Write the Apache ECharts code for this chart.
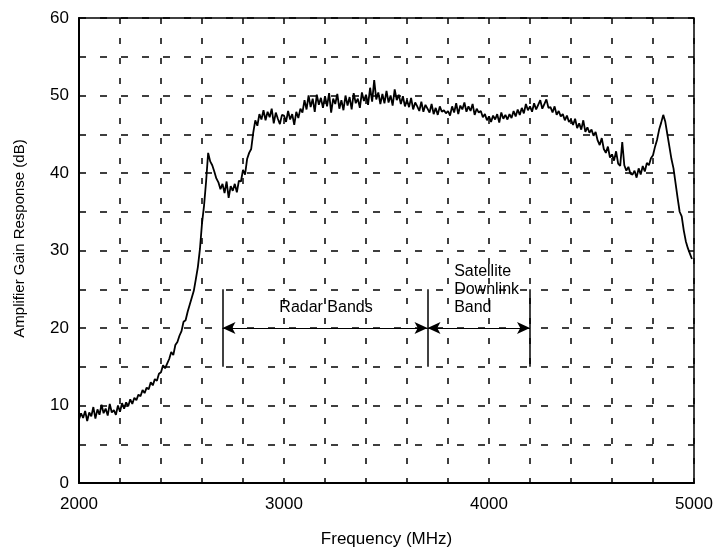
<!DOCTYPE html>
<html>
<head>
<meta charset="utf-8">
<script src="https://cdn.jsdelivr.net/npm/echarts@6/dist/echarts.min.js"></script>
<style>html,body{margin:0;padding:0;background:#fff}#c{width:716px;height:553px}</style>
</head>
<body>
<div id="c"></div>
<script>
// Frequency start/step (MHz) for the gain samples
const freqStart = 2000;
const freqStep = 10;
// Amplifier gain response (dB), one value every 10 MHz from 2000 to 4990 MHz
const gain = [
  8.2, 9.0, 8.4, 9.3, 8.0, 9.1, 8.6, 9.8, 8.3, 9.5,
  8.8, 10.1, 9.0, 9.6, 8.7, 10.2, 9.1, 9.4, 8.8, 10.0,
  9.2, 10.3, 9.6, 10.4, 9.9, 10.8, 10.2, 11.0, 10.7, 11.4,
  11.2, 12.0, 11.6, 12.3, 12.1, 13.0, 12.6, 13.4, 13.2, 14.1,
  14.3, 15.2, 14.8, 15.4, 16.0, 16.9, 16.5, 17.8, 18.2, 19.0,
  19.6, 20.8, 21.0, 22.1, 23.0, 23.9, 24.8, 26.3, 27.9, 30.2,
  33.5, 35.8, 38.9, 42.6, 41.5, 41.0, 40.2, 39.3, 38.8, 37.9,
  38.6, 37.4, 38.9, 36.8, 38.3, 37.7, 38.6, 37.5, 39.0, 38.9,
  40.4, 39.8, 41.8, 42.6, 43.1, 45.2, 46.8, 46.1, 47.6, 46.9,
  48.1, 46.8, 47.9, 47.2, 48.3, 46.4, 47.8, 47.0, 46.3, 47.5,
  47.4, 46.6, 48.0, 46.9, 47.6, 46.2, 47.9, 47.1, 48.3, 47.8,
  49.4, 48.2, 50.0, 48.5, 49.6, 47.9, 50.1, 48.8, 49.7, 48.4,
  49.9, 48.6, 50.3, 47.8, 49.6, 48.9, 50.2, 48.3, 49.4, 48.1,
  50.0, 48.7, 49.8, 48.2, 50.3, 49.0, 49.6, 48.4, 50.4, 49.3,
  50.1, 48.8, 51.0, 49.2, 52.0, 49.5, 50.4, 48.9, 50.2, 49.0,
  50.6, 49.1, 50.0, 48.7, 50.8, 49.4, 50.1, 48.9, 49.9, 48.6,
  49.4, 48.5, 49.7, 48.2, 49.1, 48.6, 48.0, 49.2, 47.9, 48.8,
  48.3, 47.8, 48.9, 47.6, 48.4, 47.5, 48.6, 47.9, 48.1, 47.7,
  48.0, 47.4, 48.6, 47.8, 49.0, 47.6, 48.7, 48.2, 49.1, 47.9,
  48.6, 48.0, 48.9, 47.5, 48.3, 47.8, 48.0, 47.2, 47.6, 46.8,
  47.3, 46.6, 47.4, 46.9, 47.6, 46.5, 47.8, 47.0, 47.5, 46.9,
  47.6, 47.1, 48.0, 47.3, 48.2, 47.5, 48.4, 47.7, 48.9, 48.1,
  48.6, 47.9, 49.0, 48.2, 48.8, 49.4, 48.3, 48.9, 49.5, 48.4,
  48.5, 47.8, 48.6, 47.5, 48.0, 47.3, 47.6, 46.8, 47.4, 46.6,
  46.9, 46.2, 47.0, 45.8, 46.4, 45.6, 46.8, 45.3, 45.9, 45.2,
  45.6, 44.8, 45.3, 44.2, 43.6, 44.5, 43.1, 42.6, 43.4, 42.0,
  42.4, 41.6, 42.8, 41.2, 40.9, 44.0, 41.0, 40.3, 40.8, 39.9,
  39.8, 40.3, 39.4, 40.6, 39.8, 40.9, 40.2, 41.3, 41.0, 41.9,
  42.3, 43.4, 44.3, 45.6, 46.5, 47.5, 46.6, 45.0, 43.4, 41.8,
  40.6, 38.7, 36.8, 35.0, 34.4, 32.6, 31.2, 30.3, 29.6, 28.9
];
// Band annotation values (MHz / dB)
const bandEdges = [2700, 3700, 4200];
const bandLow = 15, bandHigh = 25, arrowLevel = 20;
const radarLabel = 'Radar Bands';
const radarLabelAt = [3205, 22.6];
const satLabel = 'Satellite\nDownlink\nBand';
const satLabelAt = [3830, 25.0];
// Axis ranges and ticks
const xMin = 2000, xMax = 5000, xGrid = 200, xLabelEvery = 1000;
const yMin = 0, yMax = 60, yGrid = 5, yLabelEvery = 10;
const xTitle = 'Frequency (MHz)';
const yTitle = 'Amplifier Gain Response (dB)';

const series = gain.map((v, i) => [freqStart + i * freqStep, v]);
const FONT = '"Liberation Sans", Arial, sans-serif';

const chart = echarts.init(document.getElementById('c'), null, {renderer: 'canvas'});
chart.setOption({
  animation: false,
  backgroundColor: '#fff',
  grid: {left: 79, right: 22, top: 18, bottom: 69, show: true, borderColor: '#000', borderWidth: 1.5, backgroundColor: 'transparent'},
  xAxis: {
    type: 'value', min: xMin, max: xMax, interval: xGrid,
    name: xTitle, nameLocation: 'middle', nameGap: 48,
    nameTextStyle: {fontFamily: FONT, fontSize: 17, color: '#000'},
    axisLine: {show: true, lineStyle: {color: '#000', width: 2}},
    axisTick: {show: false},
    axisLabel: {fontFamily: FONT, fontSize: 17, color: '#000', margin: 13,
      formatter: v => (v % xLabelEvery === 0 ? String(v) : '')},
    splitLine: {show: true, lineStyle: {color: '#000', width: 1.5, type: [6, 14]}}
  },
  yAxis: {
    type: 'value', min: yMin, max: yMax, interval: yGrid,
    name: yTitle, nameLocation: 'middle', nameGap: 52,
    nameTextStyle: {fontFamily: FONT, fontSize: 15, color: '#000', padding: [0, 0, 0, 24]},
    axisLine: {show: true, lineStyle: {color: '#000', width: 2}},
    axisTick: {show: false},
    axisLabel: {fontFamily: FONT, fontSize: 17, color: '#000', margin: 10,
      formatter: v => (v % yLabelEvery === 0 ? String(v) : '')},
    splitLine: {show: true, lineStyle: {color: '#000', width: 1.5, type: [7, 14]}}
  },
  series: [
    {
      type: 'line', data: series, showSymbol: false, symbol: 'none',
      lineStyle: {color: '#000', width: 1.8}, z: 5
    },
    {
      type: 'line', data: [], silent: true,
      markLine: {
        silent: true, symbol: ['none', 'none'], label: {show: false},
        lineStyle: {color: '#000', width: 1.5, type: 'solid'},
        data: bandEdges.map(f => [{coord: [f, bandLow]}, {coord: [f, bandHigh]}])
      }
    },
    {
      type: 'line', data: [], silent: true,
      markLine: {
        silent: true, symbol: ['arrow', 'arrow'], symbolSize: [9, 13], label: {show: false},
        lineStyle: {color: '#000', width: 1, type: 'solid'},
        data: [
          [{coord: [bandEdges[0], arrowLevel]}, {coord: [bandEdges[1], arrowLevel]}],
          [{coord: [bandEdges[1], arrowLevel]}, {coord: [bandEdges[2], arrowLevel]}]
        ]
      },
      markPoint: {
        silent: true, symbol: 'circle', symbolSize: 0,
        data: [
          {coord: radarLabelAt, label: {show: true, formatter: radarLabel, position: 'inside', align: 'center', verticalAlign: 'middle', fontFamily: FONT, fontSize: 16, color: '#000'}},
          {coord: satLabelAt, label: {show: true, formatter: satLabel, position: 'inside', align: 'left', verticalAlign: 'middle', lineHeight: 18, fontFamily: FONT, fontSize: 16, color: '#000'}}
        ]
      }
    }
  ]
});
</script>
</body>
</html>
